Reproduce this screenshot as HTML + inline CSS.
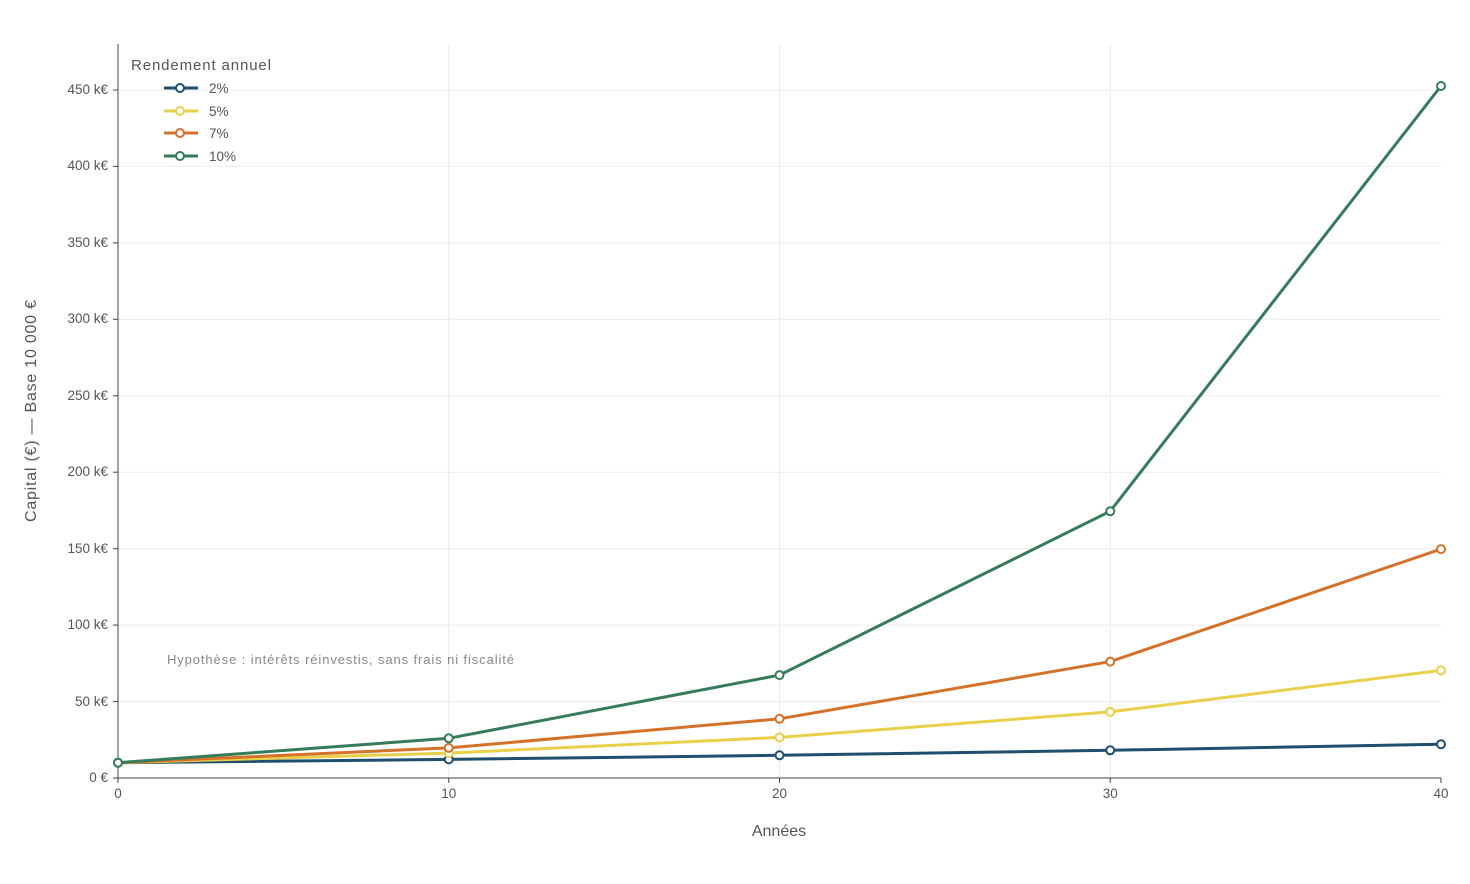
<!DOCTYPE html>
<html><head><meta charset="utf-8"><style>
html,body{margin:0;padding:0;background:#fff;}
svg{display:block;font-family:"Liberation Sans",sans-serif;}
</style></head><body>
<svg width="1470" height="884" viewBox="0 0 1470 884">
<g stroke="#ebebeb" stroke-width="1">
<line x1="448.75" y1="44" x2="448.75" y2="778"/><line x1="779.5" y1="44" x2="779.5" y2="778"/><line x1="1110.25" y1="44" x2="1110.25" y2="778"/>
<line x1="118" y1="701.6" x2="1441" y2="701.6"/><line x1="118" y1="625.1" x2="1441" y2="625.1"/><line x1="118" y1="548.7" x2="1441" y2="548.7"/><line x1="118" y1="472.2" x2="1441" y2="472.2"/><line x1="118" y1="395.8" x2="1441" y2="395.8"/><line x1="118" y1="319.3" x2="1441" y2="319.3"/><line x1="118" y1="242.9" x2="1441" y2="242.9"/><line x1="118" y1="166.4" x2="1441" y2="166.4"/><line x1="118" y1="90" x2="1441" y2="90"/>
</g>
<g stroke="#444" stroke-width="1">
<line x1="118" y1="44" x2="118" y2="778"/><line x1="118" y1="778" x2="1441" y2="778"/>
<line x1="113" y1="778" x2="118" y2="778"/><line x1="113" y1="701.6" x2="118" y2="701.6"/><line x1="113" y1="625.1" x2="118" y2="625.1"/><line x1="113" y1="548.7" x2="118" y2="548.7"/><line x1="113" y1="472.2" x2="118" y2="472.2"/><line x1="113" y1="395.8" x2="118" y2="395.8"/><line x1="113" y1="319.3" x2="118" y2="319.3"/><line x1="113" y1="242.9" x2="118" y2="242.9"/><line x1="113" y1="166.4" x2="118" y2="166.4"/><line x1="113" y1="90" x2="118" y2="90"/>
<line x1="118" y1="778" x2="118" y2="783"/><line x1="448.75" y1="778" x2="448.75" y2="783"/><line x1="779.5" y1="778" x2="779.5" y2="783"/><line x1="1110.25" y1="778" x2="1110.25" y2="783"/><line x1="1441" y1="778" x2="1441" y2="783"/>
</g>
<g font-size="13.5" fill="#555" text-anchor="end">
<text x="108" y="782">0 €</text><text x="108" y="706">50 k€</text><text x="108" y="629">100 k€</text><text x="108" y="553">150 k€</text><text x="108" y="476">200 k€</text><text x="108" y="400">250 k€</text><text x="108" y="323">300 k€</text><text x="108" y="247">350 k€</text><text x="108" y="170">400 k€</text><text x="108" y="94">450 k€</text>
</g>
<g font-size="13.5" fill="#555" text-anchor="middle">
<text x="118" y="798">0</text><text x="448.75" y="798">10</text><text x="779.5" y="798">20</text><text x="1110.25" y="798">30</text><text x="1441" y="798">40</text>
</g>
<text x="779" y="836" font-size="16" fill="#555" text-anchor="middle">Années</text>
<text transform="translate(36,411) rotate(-90)" font-size="16" fill="#555" text-anchor="middle" textLength="222">Capital (€) — Base 10 000 €</text>
<text x="167" y="664" font-size="13" fill="#888" textLength="347">Hypothèse : intérêts réinvestis, sans frais ni fiscalité</text>
<g fill="none" stroke-width="3">
<polyline stroke="#1f4e6e" points="118,762.7 448.75,759.4 779.5,755.3 1110.25,750.3 1441,744.2"/>
<polyline stroke="#e8d04a" points="118,762.7 448.75,753.1 779.5,737.4 1110.25,711.9 1441,670.4"/>
<polyline stroke="#d4722a" points="118,762.7 448.75,747.9 779.5,718.8 1110.25,661.6 1441,549.1"/>
<polyline stroke="#357d5a" points="118,762.7 448.75,738.3 779.5,675.1 1110.25,511.2 1441,86"/>
</g>
<g fill="#fff" stroke-width="2">
<g stroke="#1f4e6e"><circle cx="118" cy="762.7" r="4"/><circle cx="448.75" cy="759.4" r="4"/><circle cx="779.5" cy="755.3" r="4"/><circle cx="1110.25" cy="750.3" r="4"/><circle cx="1441" cy="744.2" r="4"/></g>
<g stroke="#e8d04a"><circle cx="448.75" cy="753.1" r="4"/><circle cx="779.5" cy="737.4" r="4"/><circle cx="1110.25" cy="711.9" r="4"/><circle cx="1441" cy="670.4" r="4"/></g>
<g stroke="#d4722a"><circle cx="448.75" cy="747.9" r="4"/><circle cx="779.5" cy="718.8" r="4"/><circle cx="1110.25" cy="661.6" r="4"/><circle cx="1441" cy="549.1" r="4"/></g>
<g stroke="#357d5a"><circle cx="118" cy="762.7" r="4"/><circle cx="448.75" cy="738.3" r="4"/><circle cx="779.5" cy="675.1" r="4"/><circle cx="1110.25" cy="511.2" r="4"/><circle cx="1441" cy="86" r="4"/></g>
</g>
<text x="131" y="70" font-size="15" fill="#555" textLength="140">Rendement annuel</text>
<g stroke-width="3">
<line x1="164" y1="88" x2="198" y2="88" stroke="#1f4e6e"/><line x1="164" y1="111" x2="198" y2="111" stroke="#e8d04a"/><line x1="164" y1="133" x2="198" y2="133" stroke="#d4722a"/><line x1="164" y1="156" x2="198" y2="156" stroke="#357d5a"/>
</g>
<g fill="#fff" stroke-width="2">
<circle cx="180" cy="88" r="4" stroke="#1f4e6e"/><circle cx="180" cy="111" r="4" stroke="#e8d04a"/><circle cx="180" cy="133" r="4" stroke="#d4722a"/><circle cx="180" cy="156" r="4" stroke="#357d5a"/>
</g>
<g font-size="13.5" fill="#555">
<text x="209" y="93">2%</text><text x="209" y="116">5%</text><text x="209" y="138">7%</text><text x="209" y="161">10%</text>
</g>
</svg>
</body></html>
